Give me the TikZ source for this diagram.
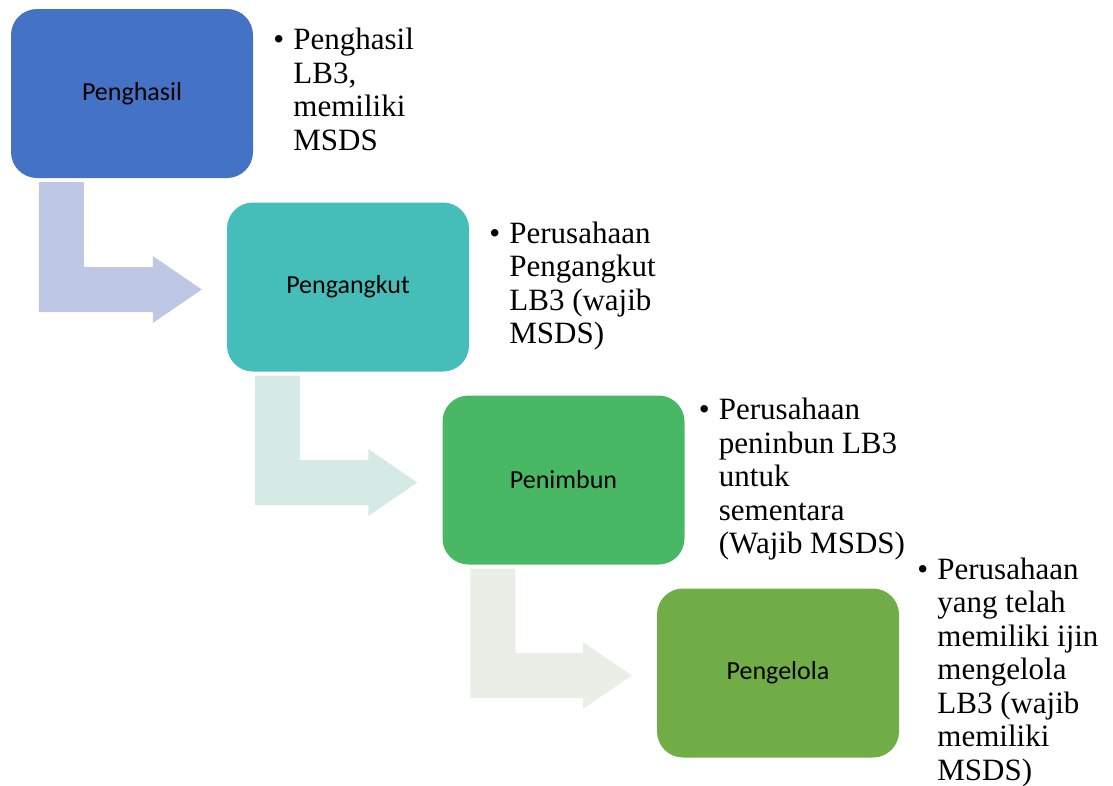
\documentclass[tikz,border=0pt]{standalone}
\usepackage{fontspec}
\setmainfont{Liberation Serif}
\newfontfamily\boxfont{Carlito}
\usepackage{tikz}
\usetikzlibrary{positioning, calc}
\definecolor{stepblue}{RGB}{68,114,196}
\definecolor{stepteal}{RGB}{69,190,185}
\definecolor{stepgreen}{RGB}{72,184,101}
\definecolor{steplime}{RGB}{112,173,71}
\definecolor{arrblue}{RGB}{190,200,228}
\definecolor{arrteal}{RGB}{213,234,228}
\definecolor{arrlime}{RGB}{233,239,230}
\tikzset{
  stagebox/.style={rectangle, draw=none, minimum width=242pt,
    minimum height=169pt, rounded corners=26pt, inner sep=0pt,
    font=\boxfont\fontsize{26}{30}\selectfont, text=black},
  desc/.style={inner sep=0pt, align=left,
    font=\fontsize{31}{33.5}\selectfont}
}
% bullet list text beside a stage
\newcommand{\bul}[1]{\makebox[20pt][l]{\textbullet}\begin{tabular}[t]{@{}l@{}}#1\end{tabular}}
% bent arrow from one stage down into the next
\newcommand{\bentarrow}[3]{%
  \fill[#3] let \p1=($(#1.south west)+(28,4)$), \p2=($(#2.west)+(-25,2.5)$) in
    (\x1,\y1) -- (\x1+45pt,\y1) -- (\x1+45pt,\y2+22.5pt)
    -- (\x2-49pt,\y2+22.5pt) -- (\x2-49pt,\y2+33.5pt) -- (\p2)
    -- (\x2-49pt,\y2-33.5pt) -- (\x2-49pt,\y2-22.5pt)
    -- (\x1,\y2-22.5pt) -- cycle;}

\begin{document}
\begin{tikzpicture}[x=1pt, y=-1pt]
  \useasboundingbox (0,0) rectangle (1113,785);

  % Stages
  \node[stagebox, fill=stepblue] (hasil) at (132,93.5) {Penghasil};
  \node[stagebox, fill=stepteal] (angkut) at (348,287) {Pengangkut};
  \node[stagebox, fill=stepgreen] (timbun) at (563.5,480) {Penimbun};
  \node[stagebox, fill=steplime] (kelola) at (778,673) {Pengelola};

  % Bent arrows
  \bentarrow{hasil}{angkut}{arrblue}
  \bentarrow{angkut}{timbun}{arrteal}
  \bentarrow{timbun}{kelola}{arrlime}

  % Descriptions
  \node[desc, anchor=west, right=20pt of hasil] (d_hasil)
    {\bul{Penghasil\\LB3,\\memiliki\\MSDS}};
  \node[desc, anchor=west, right=20pt of angkut] (d_angkut)
    {\bul{Perusahaan\\Pengangkut\\LB3 (wajib\\MSDS)}};
  \node[desc, anchor=west, right=14pt of timbun] (d_timbun)
    {\bul{Perusahaan\\peninbun LB3\\untuk\\sementara\\(Wajib MSDS)}};
  \node[desc, anchor=west, right=18pt of kelola] (d_kelola)
    {\bul{Perusahaan\\yang telah\\memiliki ijin\\mengelola\\LB3 (wajib\\memiliki\\MSDS)}};
\end{tikzpicture}
\end{document}
